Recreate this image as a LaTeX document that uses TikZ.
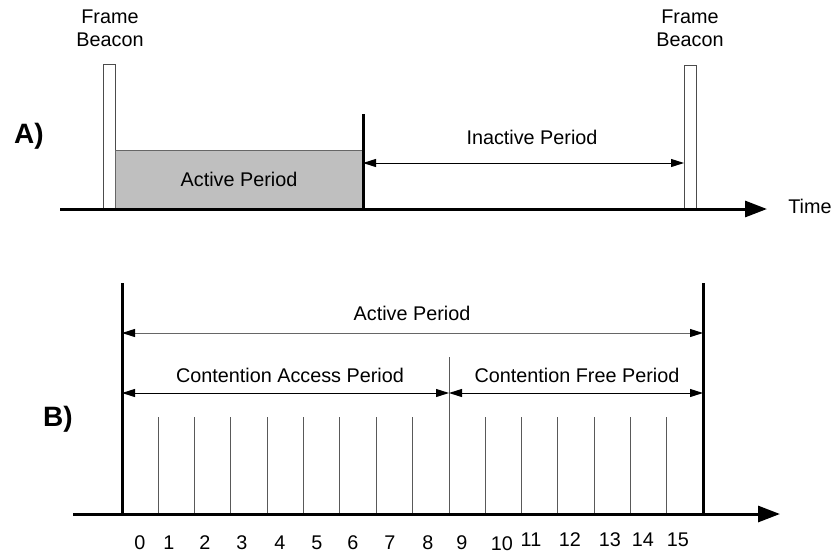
\documentclass[tikz,border=0pt]{standalone}
\usepackage{fontspec}
\setmainfont{Liberation Sans}
\usetikzlibrary{arrows.meta}
\begin{document}
\begin{tikzpicture}[x=0.5pt,y=-0.5pt,
  lbl/.style={font=\fontsize{9.9}{11.5}\selectfont, inner sep=0pt},
  part/.style={font=\fontsize{14}{16}\selectfont\bfseries, inner sep=0pt},
  axis/.style={line width=1.5pt, -{Triangle[length=11pt,width=8pt]}},
  bar/.style={line width=1.5pt},
  dim/.style={line width=0.5pt,
    {Triangle[length=6.5pt,width=4pt,color=black]}-{Triangle[length=6.5pt,width=4pt,color=black]}},
  slot/.style={line width=0.5pt, draw=black!65},
  beacon/.style={draw=black!70, line width=0.5pt, fill=white, inner sep=0pt,
    minimum width=6pt},
  activebox/.style={draw=black!60, line width=0.5pt, fill=black!25, inner sep=0pt,
    minimum width=124pt, minimum height=29.5pt, font=\fontsize{9.9}{11.5}\selectfont},
]
\useasboundingbox (0,0) rectangle (832,553);

% ---------- A) superframe with beacons ----------
\node[part] (labA) at (29,136) {A)};
\node[lbl, align=center] (fb1) at (110,28.5) {Frame\\Beacon};
\node[lbl, align=center] (fb2) at (690,28.5) {Frame\\Beacon};

\node[beacon, minimum height=72.5pt] (bc1) at (109,136.5) {};
\node[beacon, minimum height=72pt] (bc2) at (690,137) {};
\node[activebox] (act) at (239,179.5) {Active Period};

\coordinate (a0) at (60,209);
\coordinate (a1) at (767,209);
\draw[axis] (a0) -- (a1);
\node[lbl] (time) at (810,206) {Time};

\coordinate (endTop) at (363,114);
\coordinate (endBot) at (363,211);
\draw[bar] (endTop) -- (endBot);

\coordinate (inL) at (363,163);
\coordinate (inR) at (684,163);
\draw[dim] (inL) -- (inR);
\node[lbl] (inact) at (532,137) {Inactive Period};

% ---------- B) active period split into slots ----------
\node[part] (labB) at (58,419) {B)};

\coordinate (b0) at (73,514);
\coordinate (b1) at (780,514);

\foreach \k in {1,...,15}{
  \ifnum\k=9\relax\else
    \coordinate (s\k t) at ({122+36.3125*\k},417);
    \coordinate (s\k b) at ({122+36.3125*\k},514);
    \draw[slot] (s\k t) -- (s\k b);
  \fi
}
\coordinate (divT) at (449,357);
\coordinate (divB) at (449,514);
\draw[slot] (divT) -- (divB);

\draw[axis] (b0) -- (b1);

\coordinate (lTop) at (122,283);
\coordinate (lBot) at (122,516);
\coordinate (rTop) at (703,283);
\coordinate (rBot) at (703,516);
\draw[bar] (lTop) -- (lBot);
\draw[bar] (rTop) -- (rBot);

\coordinate (apL) at (122,333);
\coordinate (apR) at (703,333);
\draw[dim, draw=black!60] (apL) -- (apR);
\node[lbl] (actB) at (412,313) {Active Period};

\coordinate (capL) at (122,393);
\coordinate (capR) at (449,393);
\coordinate (cfpR) at (703,393);
\draw[dim] (capL) -- (capR);
\draw[dim] (capR) -- (cfpR);
\node[lbl] (cap) at (290,375) {Contention Access Period};
\node[lbl] (cfp) at (577,375) {Contention Free Period};

% slot numbers
\foreach \n/\x/\y in {0/140/543, 1/169/543, 2/205/543, 3/242/543, 4/280/543,
                      5/317/543, 6/353/543, 7/390/543, 8/428/543, 9/462/543,
                      10/502/544, 11/531/540, 12/570/540, 13/610/540,
                      14/643/540, 15/678/540}{
  \node[lbl] (n\n) at (\x,\y) {\n};
}
\end{tikzpicture}
\end{document}
